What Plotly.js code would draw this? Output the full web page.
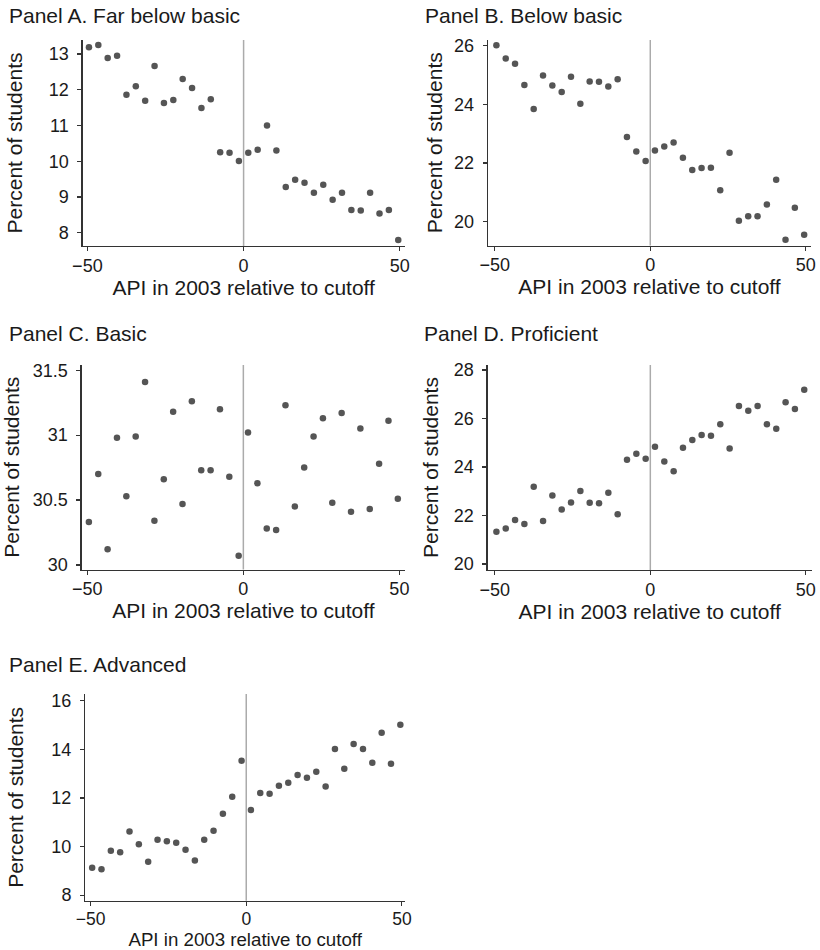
<!DOCTYPE html>
<html>
<head>
<meta charset="utf-8">
<script src="https://cdn.plot.ly/plotly-3.0.1.min.js"></script>
<style>
  html, body { margin: 0; padding: 0; background: #fff; }
  #chart { width: 820px; height: 950px; }
</style>
</head>
<body>
<div id="chart"></div>
<script>
// Bin centers: API in 2003 relative to cutoff
const apiBins = [-49.5,-46.5,-43.5,-40.5,-37.5,-34.5,-31.5,-28.5,-25.5,-22.5,-19.5,-16.5,-13.5,-10.5,-7.5,-4.5,-1.5,
                 1.5,4.5,7.5,10.5,13.5,16.5,19.5,22.5,25.5,28.5,31.5,34.5,37.5,40.5,43.5,46.5,49.5];

// Percent of students in each proficiency category
const farBelowBasic = [13.19,13.25,12.89,12.95,11.86,12.10,11.69,12.66,11.63,11.71,12.30,12.05,11.49,11.73,10.25,10.24,10.01,
                       10.24,10.32,11.00,10.30,9.28,9.48,9.40,9.12,9.34,8.92,9.12,8.64,8.62,9.12,8.54,8.64,7.80];
const belowBasic = [26.01,25.56,25.38,24.66,23.84,24.98,24.64,24.42,24.94,24.02,24.78,24.77,24.61,24.85,22.89,22.39,22.07,
                    22.43,22.56,22.70,22.18,21.76,21.83,21.84,21.07,22.35,20.03,20.19,20.19,20.59,21.43,19.39,20.48,19.56];
const basic = [30.33,30.70,30.12,30.98,30.53,30.99,31.41,30.34,30.66,31.18,30.47,31.26,30.73,30.73,31.20,30.68,30.07,
               31.02,30.63,30.28,30.27,31.23,30.45,30.75,30.99,31.13,30.48,31.17,30.41,31.05,30.43,30.78,31.11,30.51];
const proficient = [21.33,21.46,21.81,21.65,23.19,21.77,22.82,22.25,22.54,23.01,22.53,22.50,22.94,22.05,24.30,24.55,24.34,
                    24.84,24.23,23.83,24.80,25.11,25.32,25.29,25.77,24.76,26.52,26.32,26.52,25.77,25.58,26.67,26.39,27.19];
const advanced = [9.13,9.06,9.83,9.76,10.62,10.09,9.37,10.28,10.22,10.16,9.87,9.42,10.28,10.65,11.35,12.05,13.53,
                  11.50,12.20,12.17,12.50,12.63,12.95,12.83,13.08,12.47,14.02,13.20,14.22,14.02,13.45,14.68,13.41,15.01];

const panelTitles = ["Panel A. Far below basic","Panel B. Below basic","Panel C. Basic","Panel D. Proficient","Panel E. Advanced"];
const xTickVals = [-50, 0, 50];
const xTickText = ["\u221250", "0", "50"];
const yTicksA = [8, 9, 10, 11, 12, 13];
const yTicksB = [20, 22, 24, 26];
const yTicksC = [30, 30.5, 31, 31.5];
const yTicksD = [20, 22, 24, 26, 28];
const yTicksE = [8, 10, 12, 14, 16];
const xTitle = "API in 2003 relative to cutoff";
const yTitle = "Percent of students";

const W = 820, H = 950;
const FONT = "Liberation Sans, Arial, Helvetica, sans-serif";
const series = [farBelowBasic, belowBasic, basic, proficient, advanced];
const yTickSets = [yTicksA, yTicksB, yTicksC, yTicksD, yTicksE];

// layout geometry (pixels)
const geom = [
  {x0: 82.7, x1: 404.8, y0: 40, y1: 246, xr: [-51.5, 51.6], yr: [7.63, 13.39], tx: 7, ty: 15, ys: 20, xs: 4},
  {x0: 488, x1: 811, y0: 40, y1: 245.5, xr: [-52.2, 51.7], yr: [19.19, 26.19], tx: 423, ty: 15, ys: 5, xs: 4},
  {x0: 81.7, x1: 405, y0: 365, y1: 569.5, xr: [-51.8, 51.8], yr: [29.965, 31.54], tx: 7, ty: 334, ys: 7, xs: 5},
  {x0: 487.7, x1: 811.7, y0: 365, y1: 570, xr: [-52.3, 51.9], yr: [19.75, 28.21], tx: 422, ty: 334, ys: 9, xs: 5},
  {x0: 85.3, x1: 405, y0: 694, y1: 900.7, xr: [-51.7, 51.0], yr: [7.77, 16.28], tx: 7, ty: 664, ys: 22, xs: 2}
];

const traces = [];
const layout = {
  width: W, height: H,
  margin: {l: 0, r: 0, t: 0, b: 0},
  paper_bgcolor: "#fff", plot_bgcolor: "#fff",
  font: {family: FONT, color: "#1a1a1a", size: 18},
  showlegend: false,
  annotations: [],
  shapes: []
};

series.forEach((vals, i) => {
  const g = geom[i];
  const n = i + 1;
  const xa = "x" + (n === 1 ? "" : n), ya = "y" + (n === 1 ? "" : n);
  const xk = "xaxis" + (n === 1 ? "" : n), yk = "yaxis" + (n === 1 ? "" : n);
  traces.push({
    type: "scatter", mode: "markers",
    x: apiBins, y: vals, xaxis: xa, yaxis: ya,
    marker: {size: 6.5, color: "#555555"},
    cliponaxis: false,
    name: panelTitles[i]
  });
  const isE = i === 4;
  layout[xk] = {
    domain: [g.x0 / W, g.x1 / W], range: g.xr, anchor: ya,
    showgrid: false, zeroline: false, showline: true, linecolor: "#333", linewidth: 1.3,
    ticks: "outside", ticklen: 4, tickwidth: 1.2, tickcolor: "#333",
    tickvals: xTickVals, ticktext: xTickText, ticklabelstandoff: isE ? -2 : -1,
    tickfont: {size: isE ? 17.5 : 18, family: FONT, color: "#1a1a1a"},
    title: {text: xTitle, font: {size: isE ? 18.7 : 21, family: FONT, color: "#1a1a1a"}, standoff: g.xs}
  };
  layout[yk] = {
    domain: [1 - g.y1 / H, 1 - g.y0 / H], range: g.yr, anchor: xa,
    showgrid: false, zeroline: false, showline: true, linecolor: "#333", linewidth: 1.3,
    ticks: "outside", ticklen: 4, tickwidth: 1.2, tickcolor: "#333",
    tickvals: yTickSets[i], ticklabelstandoff: 5,
    tickfont: {size: 18, family: FONT, color: "#1a1a1a"},
    title: {text: yTitle, font: {size: 21, family: FONT, color: "#1a1a1a"}, standoff: g.ys}
  };
  layout.shapes.push({
    type: "line", xref: xa, yref: ya + " domain",
    x0: 0, x1: 0, y0: 0, y1: 1,
    line: {color: "#ababab", width: 1.5}, layer: "below"
  });
  layout.annotations.push({
    text: panelTitles[i], xref: "paper", yref: "paper",
    x: g.tx / W, y: 1 - g.ty / H, xanchor: "left", yanchor: "middle",
    showarrow: false, font: {size: 21, family: FONT, color: "#1a1a1a"}
  });
});

Plotly.newPlot("chart", traces, layout, {staticPlot: true, displayModeBar: false});
</script>
</body>
</html>
